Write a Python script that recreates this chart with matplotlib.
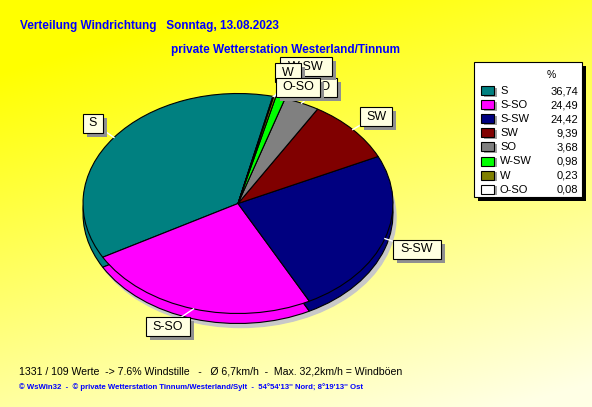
import numpy as np
import matplotlib
matplotlib.use('Agg')
import matplotlib.pyplot as plt
from matplotlib.patches import Rectangle, Ellipse

# Daten
richtungen = ['S', 'S-SO', 'S-SW', 'SW', 'SO', 'W-SW', 'W', 'O-SO']
anteile = [36.74, 24.49, 24.42, 9.39, 3.68, 0.98, 0.23, 0.08]
farben = ['#008080', '#FF00FF', '#000080', '#800000', '#808080', '#00FF00', '#808000', '#FFFFFF']

titel1 = 'Verteilung Windrichtung   Sonntag, 13.08.2023'
titel2 = 'private Wetterstation Westerland/Tinnum'
info = '1331 / 109 Werte  -> 7.6% Windstille   -   \u00d8 6,7km/h  -  Max. 32,2km/h = Windb\u00f6en'
fuss = '\u00a9 WsWin32  -  \u00a9 private Wetterstation Tinnum/Westerland/Sylt  -  54\u00b054\'13\'\' Nord; 8\u00b019\'13\'\' Ost'

# Label-Boxen (Mitte x, Mitte y, Breite) in Pixel
label_pos = {'S': (93, 123, 20), 'S-SO': (168, 326, 44), 'S-SW': (417, 249, 48),
             'SW': (376, 116, 32), 'SO': (321, 87, 32), 'W-SW': (306, 66, 52),
             'W': (288, 72, 26), 'O-SO': (298, 87, 44)}

W, H = 592, 407
CX, CY, RX, RY, TIEFE = 238, 203.5, 155, 110, 10
START = 77

fig = plt.figure(figsize=(W / 100, H / 100), dpi=100)

# Hintergrund-Verlauf gelb -> hellgelb
yy, xx = np.mgrid[0:H, 0:W]
t = np.clip(0.85 * yy / H + 0.35 * xx / W - 0.15, 0, 1)
bg = np.zeros((H, W, 3))
bg[..., 0] = 1.0
bg[..., 1] = 1.0
bg[..., 2] = t * 0.9
ax_bg = fig.add_axes([0, 0, 1, 1])
ax_bg.imshow(bg, extent=(0, W, H, 0), aspect='auto')
ax_bg.set_xlim(0, W)
ax_bg.set_ylim(H, 0)
ax_bg.axis('off')

# Torte als Ellipse: Achse so skaliert, dass Radius 1 = RX bzw. RY Pixel
ax = fig.add_axes([0, 0, 1, 1])
ax.patch.set_alpha(0)
ax.axis('off')
# Schatten
ax.add_patch(Ellipse((3 / RX, -(TIEFE + 4) / RY), 2, 2, color='#C8C8C8', zorder=0))
ax.pie(anteile, colors=farben, startangle=START, counterclock=True, radius=1,
       center=(0, -TIEFE / RY), wedgeprops=dict(edgecolor='black', linewidth=0.8))
ax.pie(anteile, colors=farben, startangle=START, counterclock=True, radius=1,
       center=(0, 0), wedgeprops=dict(edgecolor='black', linewidth=0.8))
ax.set_aspect('auto')
ax.set_xlim(-CX / RX, (W - CX) / RX)
ax.set_ylim(-(H - CY) / RY, CY / RY)

# Obere Ebene in Pixelkoordinaten
ov = fig.add_axes([0, 0, 1, 1])
ov.patch.set_alpha(0)
ov.set_xlim(0, W)
ov.set_ylim(H, 0)
ov.axis('off')

fn = 'Liberation Sans'
ov.text(20, 26, titel1, color='#0000FF', fontsize=8.5, fontweight='bold',
        family=fn, va='center', ha='left')
ov.text(171, 50, titel2, color='#0000FF', fontsize=8.5, fontweight='bold',
        family=fn, va='center', ha='left')

# Leader-Linien und Label-Boxen
winkel = START
for name, wert in zip(richtungen, anteile):
    mitte = np.deg2rad(winkel + wert * 3.6 / 2)
    winkel += wert * 3.6
    ex = CX + RX * np.cos(mitte)
    ey = CY - RY * np.sin(mitte)
    bx, by, bw = label_pos[name]
    ov.plot([ex, bx], [ey, by], color='white', lw=1, zorder=1)
for i, name in enumerate(richtungen):
    bx, by, bw = label_pos[name]
    bh = 19
    z = 2 + i * 3
    ov.add_patch(Rectangle((bx - bw / 2 + 4, by - bh / 2 + 4), bw, bh,
                           facecolor='#909090', edgecolor='none', zorder=z))
    ov.add_patch(Rectangle((bx - bw / 2, by - bh / 2), bw, bh,
                           facecolor='#FFFFE1', edgecolor='black', lw=0.8, zorder=z + 1))
    ov.text(bx, by + 0.5, name, fontsize=9, family=fn, ha='center', va='center', zorder=z + 2)

# Legende
lx0, ly0, lx1, ly1 = 474, 62, 582, 197
ov.add_patch(Rectangle((lx0 + 4, ly0 + 4), lx1 - lx0, ly1 - ly0, facecolor='black', zorder=2))
ov.add_patch(Rectangle((lx0, ly0), lx1 - lx0, ly1 - ly0, facecolor='white',
                       edgecolor='black', lw=0.8, zorder=3))
ov.text(551, 75, '%', fontsize=7.5, family=fn, ha='center', va='center', zorder=4)
for i, (name, wert, farbe) in enumerate(zip(richtungen, anteile, farben)):
    y = 91 + i * 14.1
    ov.add_patch(Rectangle((484, y - 3.5), 13, 9, facecolor='#A0A0A0', edgecolor='none', zorder=3))
    ov.add_patch(Rectangle((481, y - 5), 13, 9, facecolor=farbe, edgecolor='black', lw=0.8, zorder=4))
    ov.text(500, y, name, fontsize=8, family=fn, ha='left', va='center', zorder=4)
    ov.text(578, y, f'{wert:.2f}'.replace('.', ','), fontsize=8, family=fn,
            ha='right', va='center', zorder=4)

ov.text(19, 372, info, fontsize=7.6, family=fn, ha='left', va='center')
ov.text(19, 387, fuss, fontsize=5.6, family=fn, fontweight='bold', color='#0000FF',
        ha='left', va='center')

fig.savefig('out.png', dpi=100)
